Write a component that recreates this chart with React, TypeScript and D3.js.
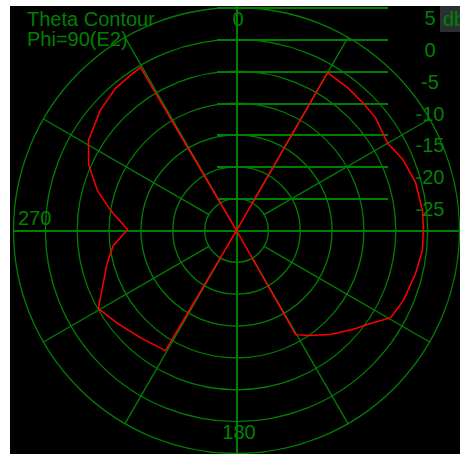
import React from "react";
import * as d3 from "d3";

// Radial ticks (dB)
const ringValues = [-25, -20, -15, -10, -5, 0, 5];
const ringLabels = ["-25", "-20", "-15", "-10", "-5", "0", "5"];
const spokeAngles = [30, 60, 120, 150, 210, 240, 300, 330];
const angleLabels = [
  { text: "0", deg: 0 },
  { text: "180", deg: 180 },
  { text: "270", deg: 270 },
];

// Pattern (theta in degrees, gain in dB). Values below -30 sit at the centre.
const thetaDeg = [
  0, 29, 30, 38, 45, 51, 60, 67, 75, 84, 89, 96, 103.5, 112.7, 119.5, 124.8, 130.2, 137.9, 145.9, 150.4,
  151, 209, 210.6, 221.9, 232, 240.5, 243.8, 256, 263, 270.5, 279, 286, 294, 301.3, 311.4, 319.6, 325.6,
  329.5, 331, 360,
];
const gainDb = [
  -40, -40, -1.4, -1.6, -1.8, -1.9, -2.6, -1.6, -0.9, -0.65, -0.65, -0.65, -1.1, -1.6, -2.2, -4.4, -6.0,
  -8.0, -10.1, -11.2, -40, -40, -8.1, -7.4, -6.3, -5.1, -6.2, -9.1, -10.5, -12.9, -10.0, -7.3, -4.6, -2.8,
  -1.5, -0.7, -0.5, -0.3, -40, -40,
];

const W = 460;
const H = 454;
const cx = 236;
const cy = 230;
const GREEN = "#008000";
const FONT = "'Liberation Sans', Arial, sans-serif";

export default function App() {
  const r = d3.scaleLinear().domain([-30, 5]).range([0, 223]).clamp(true);
  const rad = (deg: number) => (deg * Math.PI) / 180;
  const pts = thetaDeg.map((t, i) => [rad(t), r(gainDb[i])] as [number, number]);
  const line = d3
    .lineRadial<[number, number]>()
    .angle((d) => d[0])
    .radius((d) => d[1]);
  const pos = (deg: number, rr: number) => [cx + rr * Math.sin(rad(deg)), cy - rr * Math.cos(rad(deg))];

  return (
    <svg
      width={W}
      height={H}
      style={{ position: "absolute", left: 0, top: 0, display: "block" }}
      fontFamily={FONT}
    >
      <rect x={0} y={0} width={W} height={H} fill="#ffffff" />
      <rect x={10} y={6} width={W - 10} height={H - 6} fill="#000000" />
      {/* rings */}
      {ringValues.map((v) => (
        <circle
          key={"c" + v}
          cx={cx + 0.5}
          cy={cy + 0.5}
          r={r(v)}
          fill="none"
          stroke={GREEN}
          strokeWidth={1.3}
        />
      ))}
      {/* spokes */}
      {spokeAngles.map((a) => {
        const [x1, y1] = pos(a, r(-25));
        const [x2, y2] = pos(a, r(5));
        return (
          <line
            key={"s" + a}
            x1={x1 + 0.5}
            y1={y1 + 0.5}
            x2={x2 + 0.5}
            y2={y2 + 0.5}
            stroke={GREEN}
            strokeWidth={1.3}
          />
        );
      })}
      {/* axes */}
      <line x1={cx + 0.5} y1={6} x2={cx + 0.5} y2={H} stroke={GREEN} strokeWidth={2} shapeRendering="crispEdges" />
      <line x1={13} y1={cy + 0.5} x2={W} y2={cy + 0.5} stroke={GREEN} strokeWidth={2} shapeRendering="crispEdges" />
      {/* radial tick lines */}
      {ringValues.map((v) => (
        <line
          key={"t" + v}
          x1={217}
          y1={Math.round(cy - r(v)) + 0.5}
          x2={388}
          y2={Math.round(cy - r(v)) + 0.5}
          stroke={GREEN}
          strokeWidth={2}
          shapeRendering="crispEdges"
        />
      ))}
      {/* pattern */}
      <path
        d={line(pts) || ""}
        transform={`translate(${cx + 0.5},${cy + 0.5})`}
        fill="none"
        stroke="#ff0000"
        strokeWidth={1.5}
      />
      {/* radial labels */}
      {ringValues.map((v, i) => (
        <text key={"l" + v} x={430} y={cy - r(v) + 18} textAnchor="middle" fontSize={20} fill={GREEN}>
          {ringLabels[i]}
        </text>
      ))}
      {/* angle labels */}
      <text x={238} y={26} textAnchor="middle" fontSize={20} fill={GREEN}>
        {angleLabels[0].text}
      </text>
      <text x={239} y={439} textAnchor="middle" fontSize={20} fill={GREEN}>
        {angleLabels[1].text}
      </text>
      <text x={18} y={225} textAnchor="start" fontSize={20} fill={GREEN}>
        {angleLabels[2].text}
      </text>
      {/* title */}
      <text x={27} y={26} fontSize={20} fill={GREEN}>
        Theta Contour
      </text>
      <text x={27} y={46} fontSize={20} fill={GREEN}>
        Phi=90(E2)
      </text>
      {/* unit box */}
      <rect x={440} y={6} width={20} height={26} fill="#2b2f33" />
      <text x={443} y={26} fontSize={20} fill={GREEN}>
        db
      </text>
    </svg>
  );
}
